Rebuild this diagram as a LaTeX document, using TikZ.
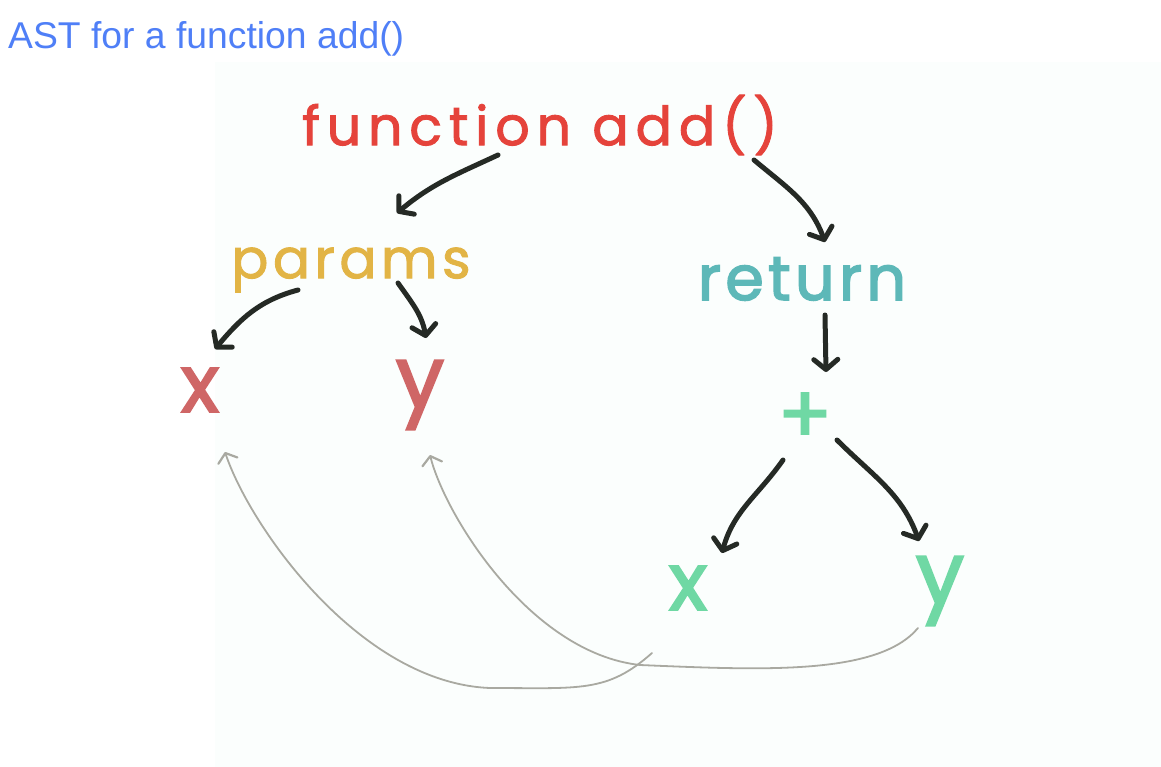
\documentclass[tikz,border=0pt]{standalone}
\usepackage{fontspec}
\setmainfont{Liberation Sans}
\newfontfamily\hand[LetterSpace=8,FakeBold=1.6]{Poppins}
\newfontfamily\handwide[LetterSpace=12.5,FakeBold=1.6]{Poppins}
\newfontfamily\handthick[LetterSpace=7,FakeBold=2.5]{Poppins}
\usetikzlibrary{arrows.meta,calc}
\definecolor{titleblue}{HTML}{4F7FF7}
\definecolor{fnred}{HTML}{E5433B}
\definecolor{paramyellow}{HTML}{E2B445}
\definecolor{paramrose}{HTML}{CF6666}
\definecolor{retteal}{HTML}{5DB8B8}
\definecolor{exprgreen}{HTML}{6FD8A4}
\definecolor{ink}{HTML}{252A25}
\definecolor{pencil}{HTML}{A9A9A1}
\definecolor{paper}{HTML}{FBFEFD}
\tikzset{
  lbl/.style={inner sep=0pt, anchor=center, font=\hand},
  edge/.style={draw=ink, line width=5pt, line cap=round,
    -{Straight Barb[length=10pt,width=24pt,line width=5pt,round]}},
  backref/.style={draw=pencil, line width=1.8pt, line cap=round,
    -{Straight Barb[length=8pt,width=20pt,line width=2.2pt,round]}}
}
\begin{document}
\begin{tikzpicture}[x=1pt,y=-1pt]
\useasboundingbox (0,0) rectangle (1161,767);
\fill[white] (0,0) rectangle (1161,767);
\fill[paper] (215,62) rectangle (1161,767);
\node[anchor=base west, inner sep=0pt, text=titleblue, font=\fontsize{37.3}{40}\selectfont] (title) at (8,49) {AST for a function add()};
\node[lbl, text=fnred, font=\handwide\fontsize{54}{60}\selectfont] (fn) at (540,125) {function add()};
\node[lbl, text=paramyellow, font=\hand\fontsize{55}{60}\selectfont] (params) at (351,270) {params};
\node[lbl, text=paramrose, font=\handthick\fontsize{80}{80}\selectfont] (px) at (200,390) {x};
\node[lbl, text=paramrose, font=\handthick\fontsize{86}{80}\selectfont] (py) at (420,395) {y};
\node[lbl, text=retteal, font=\handthick\fontsize{62}{60}\selectfont] (ret) at (802,279) {return};
\node[lbl, text=exprgreen, font=\handthick\fontsize{80}{80}\selectfont] (plus) at (805,418) {+};
\node[lbl, text=exprgreen, font=\handthick\fontsize{80}{80}\selectfont] (bx) at (688,588) {x};
\node[lbl, text=exprgreen, font=\handthick\fontsize{86}{80}\selectfont] (by) at (940,591) {y};
% tree edges
\draw[edge] ($(fn)+(-42,30)$) to[out=205,in=40] ($(params)+(46,-57)$);
\draw[edge] ($(fn)+(214,35)$) to[out=-40,in=110] ($(ret)+(23,-37)$);
\draw[edge] ($(params)+(-53,20)$) to[out=195,in=50] ($(px)+(15,-41)$);
\draw[edge] ($(params)+(47,13)$) to[out=-55,in=100] ($(py)+(6,-57)$);
\draw[edge] ($(ret)+(23,36)$) -- ($(plus)+(21,-46)$);
\draw[edge] ($(plus)+(-22,42)$) to[out=235,in=75] ($(bx)+(34,-35)$);
\draw[edge] ($(plus)+(32,22)$) to[out=-45,in=110] ($(by)+(-21,-50)$);
% references back to the parameters
\draw[backref] ($(bx)+(-36,65)$) .. controls +(-45,40) and +(90,0) .. (490,688)
  .. controls +(-130,-5) and +(25,75) .. ($(px)+(25,62)$);
\draw[backref] ($(by)+(-22,37)$) .. controls +(-40,48) and +(120,5) .. (640,665)
  .. controls +(-110,-12) and +(15,60) .. ($(py)+(10,60)$);
\end{tikzpicture}
\end{document}
